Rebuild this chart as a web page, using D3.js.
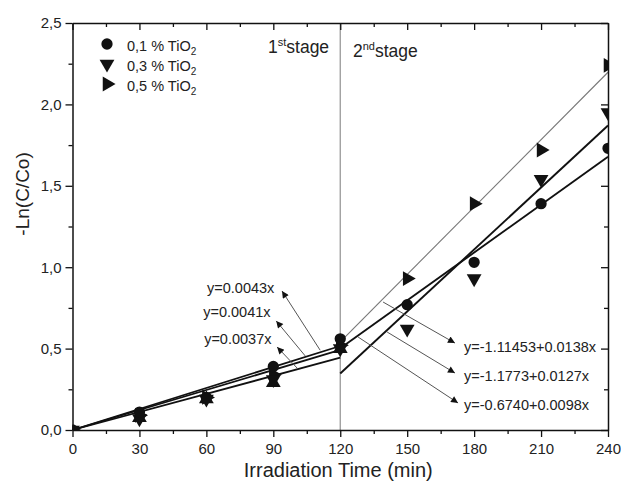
<!DOCTYPE html>
<html><head><meta charset="utf-8">
<script src="https://cdn.jsdelivr.net/npm/d3@7"></script>
<style>
body{margin:0;background:#fff}
svg{display:block}
text{font-family:"Liberation Sans",Arial,sans-serif;fill:#222}
</style>
</head><body>
<svg id="c" width="621" height="490"></svg>
<script>
// ---------- data ----------
const times = [0, 30, 60, 90, 120, 150, 180, 210, 240];
const tio2_01 = [0, 0.11, 0.20, 0.39, 0.56, 0.77, 1.03, 1.39, 1.73];
const tio2_03 = [0, 0.07, 0.19, 0.31, 0.50, 0.62, 0.93, 1.54, 1.95];
const tio2_05 = [0, 0.09, 0.20, 0.34, 0.52, 0.93, 1.39, 1.72, 2.24];
const upTimes = [30, 60, 90, 120];
const upValues = [0.075, 0.19, 0.29, 0.50];
const seriesNames = ["0,1 % TiO", "0,3 % TiO", "0,5 % TiO"];

const stage1Slopes = [0.0043, 0.0041, 0.0037];
const stage1Labels = ["y=0.0043x", "y=0.0041x", "y=0.0037x"];
const stage1TextPos = [[60.3, 0.842], [58.6, 0.694], [59.0, 0.528]];
const stage1ArrowTail = [[111, 0.49], [104.3, 0.455], [100.7, 0.38]];
const stage1ArrowHead = [[93.9, 0.854], [91.3, 0.67], [91.7, 0.51]];

const stage2Intercepts = [-1.11453, -1.1773, -0.6740];
const stage2Slopes = [0.0138, 0.0127, 0.0098];
const stage2Labels = ["y=-1.11453+0.0138x", "y=-1.1773+0.0127x", "y=-0.6740+0.0098x"];
const stage2TextPos = [[175.5, 0.479], [175.5, 0.301], [175.5, 0.123]];
const stage2ArrowTail = [[139.2, 0.786], [141, 0.602], [128, 0.571]];
const stage2ArrowHead = [[171.4, 0.534], [171.4, 0.35], [172.8, 0.166]];

const xTicks = [0, 30, 60, 90, 120, 150, 180, 210, 240];
const yTicks = [0, 0.5, 1.0, 1.5, 2.0, 2.5];
const yTickLabels = ["0,0", "0,5", "1,0", "1,5", "2,0", "2,5"];

// ---------- layout ----------
const L = 72.5, R = 608, T = 23, B = 430;
const svg = d3.select("#c");
const x = d3.scaleLinear().domain([0, 240]).range([L, R]);
const y = d3.scaleLinear().domain([0, 2.5]).range([B, T]);

const defs = svg.append("defs");
defs.append("marker").attr("id", "ah").attr("viewBox", "0 0 10 10")
  .attr("refX", 10).attr("refY", 5).attr("markerWidth", 11).attr("markerHeight", 7)
  .attr("markerUnits", "userSpaceOnUse").attr("orient", "auto")
  .append("path").attr("d", "M0,0 L10,5 L0,10 Z").attr("fill", "#111");
defs.append("clipPath").attr("id", "plotclip").append("rect")
  .attr("x", L).attr("y", T).attr("width", R - L).attr("height", B - T);

// vertical stage divider
svg.append("line").attr("x1", x(120)).attr("x2", x(120)).attr("y1", T).attr("y2", B)
  .attr("stroke", "#999").attr("stroke-width", 1.3);

// axes
function styleAxis(g) {
  g.selectAll("path").attr("stroke", "#111").attr("stroke-width", 1.5);
  g.selectAll("line").attr("stroke", "#111").attr("stroke-width", 1.3);
  g.selectAll("text").attr("font-size", 15).attr("fill", "#222")
    .style("font-family", '"Liberation Sans",Arial,sans-serif');
}
const xMinor = d3.range(15, 240, 30);
const yMinor = d3.range(0.25, 2.5, 0.5);

// stage 1 fit lines
stage1Slopes.forEach(b => {
  svg.append("line").attr("x1", x(0)).attr("y1", y(0)).attr("x2", x(120)).attr("y2", y(b * 120))
    .attr("stroke", "#111").attr("stroke-width", 1.8);
});
// stage 2 fit lines
stage2Slopes.forEach((b, i) => {
  const a = stage2Intercepts[i];
  svg.append("line").attr("x1", x(120)).attr("y1", y(a + b * 120)).attr("x2", x(240)).attr("y2", y(a + b * 240))
    .attr("stroke", i === 0 ? "#777" : "#111").attr("stroke-width", i === 0 ? 1.1 : 1.9);
});

// annotations
function annot(labels, pos, tails, heads) {
  labels.forEach((t, i) => {
    svg.append("line").attr("x1", x(tails[i][0])).attr("y1", y(tails[i][1]))
      .attr("x2", x(heads[i][0])).attr("y2", y(heads[i][1]))
      .attr("stroke", "#555").attr("stroke-width", 1).attr("marker-end", "url(#ah)");
    svg.append("text").attr("x", x(pos[i][0])).attr("y", y(pos[i][1]))
      .attr("font-size", 14.5).text(t);
  });
}
annot(stage1Labels, stage1TextPos, stage1ArrowTail, stage1ArrowHead);
annot(stage2Labels, stage2TextPos, stage2ArrowTail, stage2ArrowHead);

// markers
const sym = {
  circle: d3.symbol().type(d3.symbolCircle).size(100)(),
  tri: d3.symbol().type(d3.symbolTriangle).size(95)()
};
const markG = svg.append("g").attr("clip-path", "url(#plotclip)");
function drawSeries(xs, vals, type, rot) {
  markG.append("g").selectAll("path").data(vals).join("path")
    .attr("d", type === "circle" ? sym.circle : sym.tri)
    .attr("transform", (d, i) => `translate(${x(xs[i])},${y(d)}) rotate(${rot})`)
    .attr("fill", "#111");
}
drawSeries(upTimes, upValues, "tri", 0);
drawSeries(times, tio2_05, "tri", 90);
drawSeries(times, tio2_03, "tri", 180);
drawSeries(times, tio2_01, "circle", 0);

// axes drawn on top
const gxB = svg.append("g").attr("transform", `translate(0,${B})`)
  .call(d3.axisBottom(x).tickValues(xTicks).tickSize(7).tickPadding(6).tickSizeOuter(0).tickFormat(d3.format("d")));
styleAxis(gxB);
svg.append("g").attr("transform", `translate(0,${B})`)
  .call(d3.axisBottom(x).tickValues(xMinor).tickSize(4).tickFormat("").tickSizeOuter(0))
  .call(g => { g.select("path").remove(); styleAxis(g); });

const gxT = svg.append("g").attr("transform", `translate(0,${T})`)
  .call(d3.axisTop(x).tickValues(xTicks).tickSize(-7).tickFormat("").tickSizeOuter(0));
styleAxis(gxT);
svg.append("g").attr("transform", `translate(0,${T})`)
  .call(d3.axisTop(x).tickValues(xMinor).tickSize(-4).tickFormat("").tickSizeOuter(0))
  .call(g => { g.select("path").remove(); styleAxis(g); });

const gyL = svg.append("g").attr("transform", `translate(${L},0)`)
  .call(d3.axisLeft(y).tickValues(yTicks).tickSize(7).tickPadding(4).tickSizeOuter(0)
    .tickFormat((d, i) => yTickLabels[i]));
styleAxis(gyL);
svg.append("g").attr("transform", `translate(${L},0)`)
  .call(d3.axisLeft(y).tickValues(yMinor).tickSize(4).tickFormat("").tickSizeOuter(0))
  .call(g => { g.select("path").remove(); styleAxis(g); });

const gyR = svg.append("g").attr("transform", `translate(${R},0)`)
  .call(d3.axisRight(y).tickValues(yTicks).tickSize(-7).tickFormat("").tickSizeOuter(0));
styleAxis(gyR);
svg.append("g").attr("transform", `translate(${R},0)`)
  .call(d3.axisRight(y).tickValues(yMinor).tickSize(-4).tickFormat("").tickSizeOuter(0))
  .call(g => { g.select("path").remove(); styleAxis(g); });

// axis titles
svg.append("text").attr("x", (L + R) / 2 - 2).attr("y", 477).attr("text-anchor", "middle")
  .attr("font-size", 20).text("Irradiation Time (min)");
svg.append("text").attr("transform", `translate(29,${y(1.45)}) rotate(-90)`)
  .attr("text-anchor", "middle").attr("font-size", 19).text("-Ln(C/Co)");

// legend
const legTypes = [["circle", 0], ["tri", 180], ["tri", 90]];
seriesNames.forEach((n, i) => {
  const cy = 44 + i * 20;
  svg.append("path").attr("d", legTypes[i][0] === "circle" ? sym.circle : sym.tri)
    .attr("transform", `translate(107,${cy}) rotate(${legTypes[i][1]})`).attr("fill", "#111");
  const t = svg.append("text").attr("x", 127).attr("y", cy + 7).attr("font-size", 14.5);
  t.append("tspan").text(n);
  t.append("tspan").attr("font-size", 10).attr("dy", 4).text("2");
});

// stage labels
const st1 = svg.append("text").attr("x", 268).attr("y", 53).attr("font-size", 17.5);
st1.append("tspan").text("1");
st1.append("tspan").attr("font-size", 11).attr("dy", -7).text("st");
st1.append("tspan").attr("dy", 7).text("stage");
const st2 = svg.append("text").attr("x", 353).attr("y", 57).attr("font-size", 17.5);
st2.append("tspan").text("2");
st2.append("tspan").attr("font-size", 11).attr("dy", -7).text("nd");
st2.append("tspan").attr("dy", 7).text("stage");
</script>
</body></html>
